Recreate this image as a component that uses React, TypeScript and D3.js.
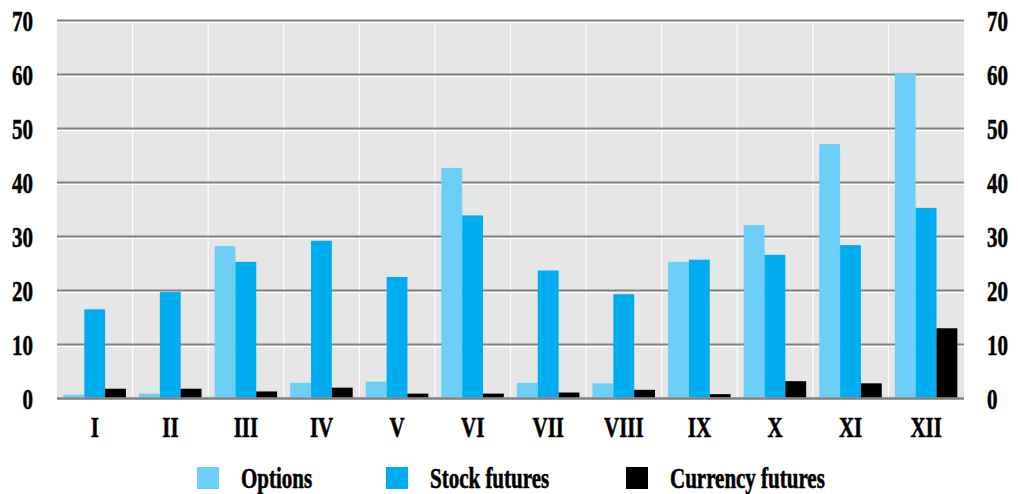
import React from "react";
import * as d3 from "d3";

const categories = ["I", "II", "III", "IV", "V", "VI", "VII", "VIII", "IX", "X", "XI", "XII"];
const seriesNames = ["Options", "Stock futures", "Currency futures"];
const options = [0.8, 1.0, 28.3, 3.0, 3.2, 42.8, 3.0, 2.9, 25.4, 32.2, 47.2, 60.3];
const stockFutures = [16.6, 19.8, 25.4, 29.3, 22.6, 34.0, 23.8, 19.4, 25.8, 26.7, 28.5, 35.4];
const currencyFutures = [1.9, 1.9, 1.4, 2.1, 1.0, 1.0, 1.2, 1.7, 0.9, 3.3, 2.9, 13.1];
const yTicks = [0, 10, 20, 30, 40, 50, 60, 70];
const colors = ["#6dcff6", "#00aeef", "#000000"];

const W = 1018;
const H = 494;
const left = 57;
const right = 964;
const top = 21;
const bottom = 399;
const FONT = "Liberation Serif";
const SX = 0.7;

export default function App() {
  const series = [options, stockFutures, currencyFutures];
  const x0 = d3.scaleBand<string>().domain(categories).range([left, right]).padding(0);
  const bw = x0.bandwidth();
  const x1 = d3
    .scaleBand<number>()
    .domain([0, 1, 2])
    .range([bw * 0.085, bw * 0.912])
    .padding(0);
  const y = d3.scaleLinear().domain([0, 70]).range([bottom, top]);

  const legendX = [197, 386, 626];

  const label = (txt: string, x: number, yy: number, anchor: "start" | "middle" | "end", key: string) => (
    <g key={key} transform={`translate(${x},${yy}) scale(${SX},1)`}>
      <text
        x={0}
        y={0}
        textAnchor={anchor}
        fontFamily={FONT}
        fontWeight="bold"
        fontSize={30}
        fill="#000"
        stroke="#000"
        strokeWidth={0.6}
      >
        {txt}
      </text>
    </g>
  );

  return (
    <svg width={W} height={H} style={{ position: "absolute", left: 0, top: 0 }}>
      <rect x={0} y={0} width={W} height={H} fill="#fff" />
      <rect x={left} y={top} width={right - left} height={bottom - top} fill="#e6e6e6" />
      {categories.slice(1).map((c) => (
        <line
          key={"v" + c}
          x1={x0(c)!}
          x2={x0(c)!}
          y1={top}
          y2={bottom}
          stroke="#fff"
          strokeWidth={1.2}
        />
      ))}
      {yTicks.map((t) => (
        <g key={"g" + t}>
          <line x1={left} x2={right} y1={y(t) + 1.2} y2={y(t) + 1.2} stroke="#fff" strokeWidth={1.6} />
          <line x1={left} x2={right} y1={y(t) - 0.5} y2={y(t) - 0.5} stroke="#808080" strokeWidth={2.2} />
        </g>
      ))}
      {categories.map((c, i) => (
        <g key={"b" + c} transform={`translate(${x0(c)},0)`}>
          {series.map((s, j) => (
            <rect
              key={j}
              x={x1(j)!}
              y={y(s[i])}
              width={x1.bandwidth()}
              height={y(0) - 1.5 - y(s[i])}
              fill={colors[j]}
            />
          ))}
        </g>
      ))}
      <line x1={left} x2={right} y1={y(0) - 0.5} y2={y(0) - 0.5} stroke="#808080" strokeWidth={2.2} />
      {yTicks.map((t) => label(String(t), 33, y(t) + 10, "end", "yl" + t))}
      {yTicks.map((t) => label(String(t), 987, y(t) + 10, "start", "yr" + t))}
      {categories.map((c) => label(c, x0(c)! + bw / 2, 437, "middle", "xl" + c))}
      {seriesNames.map((n, j) => (
        <g key={"lg" + n}>
          <rect x={legendX[j]} y={467} width={22} height={22} fill={colors[j]} />
          {label(n, legendX[j] + 44, 488, "start", "lt" + n)}
        </g>
      ))}
    </svg>
  );
}
